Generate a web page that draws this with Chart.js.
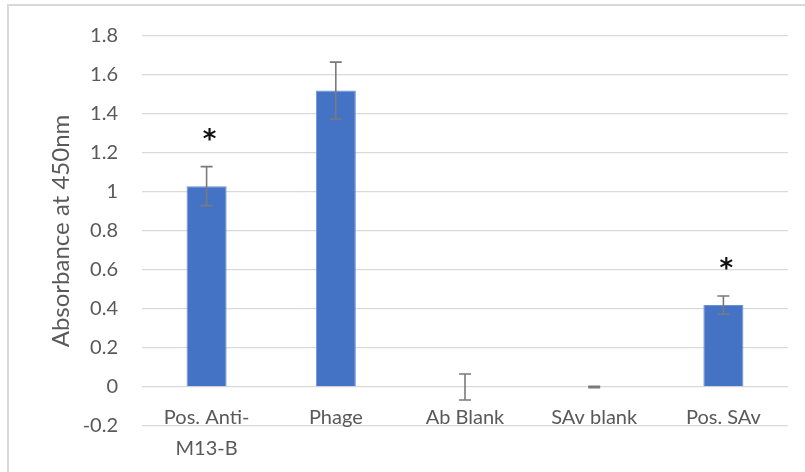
<!DOCTYPE html>
<html>
<head>
<meta charset="utf-8">
<script src="https://cdn.jsdelivr.net/npm/chart.js@4/dist/chart.umd.min.js"></script>
<style>
  html, body { margin: 0; padding: 0; background: #fff; }
  #wrap { position: relative; width: 805px; height: 472px; overflow: hidden; }
  #frame { position: absolute; left: 7px; top: 4px; width: 820px; height: 500px;
           border-left: 2px solid #d9d9d9; border-top: 2px solid #d9d9d9; box-sizing: border-box; }
  canvas { position: absolute; left: 0; top: 0; }
</style>
</head>
<body>
<div id="wrap">
  <div id="frame"></div>
  <canvas id="c" width="805" height="472"></canvas>
</div>
<script>
// Mean absorbance per sample and its error (± one deviation)
const categories = [['Pos. Anti-', 'M13-B'], 'Phage', 'Ab Blank', 'SAv blank', 'Pos. SAv'];
const absorbance = [1.03, 1.52, 0.0, 0.0, 0.42];
const errors = [0.10, 0.146, 0.067, 0.003, 0.047];
// Samples marked as significant
const significant = [true, false, false, false, true];
const yTicks = { min: -0.2, max: 1.8, step: 0.2 };

const FONT = 'Lato, "Open Sans", sans-serif';
const TEXT = '#595959';

// Whiskers drawn through the y scale at value ± error
const errorBarPlugin = {
  id: 'errorBars',
  afterDatasetsDraw(chart) {
    const { ctx, scales: { y } } = chart;
    const meta = chart.getDatasetMeta(0);
    ctx.save();
    ctx.strokeStyle = '#7a7a7a';
    ctx.lineWidth = 1.6;
    meta.data.forEach((bar, i) => {
      const top = y.getPixelForValue(absorbance[i] + errors[i]);
      const bot = y.getPixelForValue(absorbance[i] - errors[i]);
      const x = bar.x, half = 6;
      ctx.beginPath();
      ctx.moveTo(x, top); ctx.lineTo(x, bot);
      ctx.moveTo(x - half, top); ctx.lineTo(x + half, top);
      ctx.moveTo(x - half, bot); ctx.lineTo(x + half, bot);
      ctx.stroke();
    });
    // significance asterisks above the whiskers
    ctx.fillStyle = '#111';
    ctx.font = 'bold 26px "DejaVu Sans", sans-serif';
    ctx.textAlign = 'center';
    ctx.textBaseline = 'middle';
    meta.data.forEach((bar, i) => {
      if (!significant[i]) return;
      const py = y.getPixelForValue(absorbance[i] + errors[i] + 0.155);
      ctx.fillText('*', bar.x + 3, py + 5);
    });
    ctx.restore();
  }
};

new Chart(document.getElementById('c'), {
  type: 'bar',
  data: {
    labels: categories,
    datasets: [{
      data: absorbance,
      backgroundColor: '#4472c4',
      borderColor: '#6a8fd3',
      borderWidth: 1,
      categoryPercentage: 1.0,
      barPercentage: 0.31
    }]
  },
  options: {
    responsive: false,
    animation: false,
    devicePixelRatio: 1,
    layout: { padding: { left: 47, top: 34, right: 17, bottom: 46 } },
    plugins: { legend: { display: false }, tooltip: { enabled: false } },
    scales: {
      x: {
        position: { y: 0 },
        grid: { display: false },
        border: { display: false },
        ticks: {
          color: TEXT,
          font: { family: FONT, size: 20, lineHeight: 1.55 },
          padding: 7,
          maxRotation: 0,
          autoSkip: false
        }
      },
      y: {
        min: yTicks.min,
        max: yTicks.max,
        border: { display: false },
        grid: { color: '#d9d9d9', lineWidth: 1.3, drawTicks: false },
        ticks: {
          stepSize: yTicks.step,
          color: TEXT,
          padding: 24,
          font: { family: FONT, size: 20 },
          callback: v => String(Math.round(v * 10) / 10)
        },
        title: {
          display: true,
          text: 'Absorbance at 450nm',
          color: TEXT,
          font: { family: FONT, size: 24, lineHeight: 1.2 },
          padding: { top: 0, bottom: 0 }
        },
        afterFit(scale) { scale.width = 95; }
      }
    }
  },
  plugins: [errorBarPlugin]
});
</script>
</body>
</html>
